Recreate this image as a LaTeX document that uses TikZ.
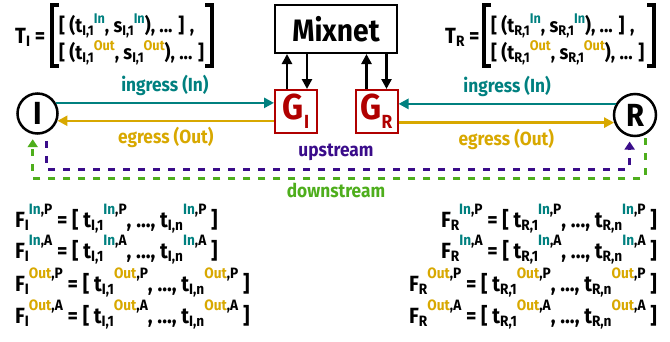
\documentclass[tikz,border=0pt]{standalone}
\usepackage{fontspec}
\setmainfont{Fira Sans}[FakeStretch=0.91]
\usepackage{xcolor}
\usetikzlibrary{positioning,arrows.meta,calc}
\definecolor{InTeal}{HTML}{00807F}
\definecolor{OutGold}{HTML}{D8A800}
\definecolor{UpPurple}{HTML}{3A0C8A}
\definecolor{DownGreen}{HTML}{4EAE1C}
\definecolor{GateRed}{HTML}{B00000}
\newcommand\lo[1]{\raisebox{-3pt}{\fontsize{15}{15}\selectfont #1}}
\newcommand\hi[1]{\raisebox{13pt}{\fontsize{15}{15}\selectfont #1}}
\newcommand\losm[1]{\raisebox{-3pt}{\fontsize{14}{14}\selectfont #1}}
\newcommand\hilow[1]{\raisebox{9pt}{\fontsize{14}{14}\selectfont #1}}
\newcommand\InTag{\textcolor{InTeal}{In}}
\newcommand\OutTag{\textcolor{OutGold}{Out}}
\newcommand\gsub[1]{\raisebox{-9pt}{\fontsize{19}{19}\selectfont #1}}
\begin{document}
\begin{tikzpicture}[x=1pt,y=-1pt,
    every node/.style={font=\bfseries\fontsize{22}{22}\selectfont, inner sep=0pt},
    ar/.style={-{Triangle[length=10pt,width=10pt]},line width=2.5pt},
    gate/.style={draw=GateRed,line width=2pt,minimum width=42pt,minimum height=43pt,
                 text=GateRed,font=\bfseries\fontsize{36}{36}\selectfont},
    party/.style={draw,circle,line width=2.5pt,minimum size=40pt,
                  font=\bfseries\fontsize{32}{32}\selectfont},
    flow/.style={line width=3pt,dash pattern=on 7pt off 8pt,
                 -{Triangle[length=8pt,width=10pt]}},
    lbl/.style={font=\bfseries\fontsize{19}{19}\selectfont},
    trow/.style={anchor=base west,font=\bfseries\fontsize{20}{20}\selectfont},
    brk/.style={line width=3.5pt}]
  \useasboundingbox (0,0) rectangle (670,341);
  % parties, gateways and the mixnet
  \node[party] (i) at (37.5,113.5) {I};
  \node[party, minimum size=42pt] (r) at (635,115) {R};
  \node[gate] (gi) at (296,111.5) {G\gsub{I}};
  \node[gate] (gr) at (376.5,111.5) {G\gsub{R}};
  \node[draw, line width=2pt, minimum width=122pt, minimum height=48pt,
        font=\bfseries\fontsize{31}{31}\selectfont] (mix) at (336,29) {Mixnet};
  \draw[ar] ([xshift=-9pt]gi.north) -- ([xshift=-9pt]gi.north |- mix.south);
  \draw[ar] ([xshift=11pt]gi.north |- mix.south) -- ([xshift=11pt]gi.north);
  \draw[ar] ([xshift=-10pt]gr.north) -- ([xshift=-10pt]gr.north |- mix.south);
  \draw[ar] ([xshift=10pt]gr.north |- mix.south) -- ([xshift=10pt]gr.north);
  % ingress / egress
  \draw[ar, InTeal] (i.30) -- (i.30 -| gi.west)
    node[lbl, midway, above=6pt] {ingress (In)};
  \draw[ar, OutGold] (gi.west |- i.-20) -- (i.-20)
    node[lbl, midway, below=5pt] {egress (Out)};
  \draw[ar, InTeal] (r.150) -- (r.150 -| gr.east)
    node[lbl, midway, above=6pt] {ingress (In)};
  \draw[ar, OutGold] (gr.east |- r.200) -- (r.200)
    node[lbl, midway, below=5pt] {egress (Out)};
  % upstream / downstream
  \coordinate (upy) at (0,169);
  \coordinate (downy) at (0,178);
  \draw[flow, UpPurple, shorten <=8pt, shorten >=5pt]
    (i.-65) -- (i.-65 |- upy) -| (r.-104);
  \draw[flow, DownGreen, shorten <=4pt, shorten >=5pt]
    (r.-61) -- (r.-61 |- downy) -| (i.-103);
  \node[lbl, text=UpPurple] (uplbl) at (336,152) {upstream};
  \node[lbl, text=DownGreen] (downlbl) at (336,190) {downstream};
  % trace matrices
  \node[anchor=base west] (ti) at (15,43) {T\lo{I} =};
  \node[trow] (ti1) at (59,32)
    {[ (t\losm{I,1}\hilow{\InTag}, s\losm{I,1}\hilow{\InTag}), ... ] ,};
  \node[trow] (ti2) at (59,59)
    {[ (t\losm{I,1}\hilow{\OutTag}, s\losm{I,1}\hilow{\OutTag}), ... ]};
  \draw[brk] (59,5) -- (52,5) -- (52,66) -- (59,66);
  \draw[brk] (205,5) -- (212,5) -- (212,66) -- (205,66);
  \node[anchor=base west] (tr) at (445,43) {T\lo{R} =};
  \node[trow] (tr1) at (491,32)
    {[ (t\losm{R,1}\hilow{\InTag}, s\losm{R,1}\hilow{\InTag}), ... ] ,};
  \node[trow] (tr2) at (491,59)
    {[ (t\losm{R,1}\hilow{\OutTag}, s\losm{R,1}\hilow{\OutTag}), ... ]};
  \draw[brk] (491,5) -- (484,5) -- (484,66) -- (491,66);
  \draw[brk] (647,5) -- (654,5) -- (654,66) -- (647,66);
  % flow vectors
  \node[anchor=base west] (fi1) at (15,227)
    {F\lo{I}\hi{\InTag,P} = [ t\lo{I,1}\hi{\InTag,P}, ..., t\lo{I,n}\hi{\InTag,P} ]};
  \node[anchor=base west] (fi2) at (15,258)
    {F\lo{I}\hi{\InTag,A} = [ t\lo{I,1}\hi{\InTag,A}, ..., t\lo{I,n}\hi{\InTag,A} ]};
  \node[anchor=base west] (fi3) at (15,291)
    {F\lo{I}\hi{\OutTag,P} = [ t\lo{I,1}\hi{\OutTag,P}, ..., t\lo{I,n}\hi{\OutTag,P} ]};
  \node[anchor=base west] (fi4) at (15,323)
    {F\lo{I}\hi{\OutTag,A} = [ t\lo{I,1}\hi{\OutTag,A}, ..., t\lo{I,n}\hi{\OutTag,A} ]};
  \node[anchor=base east] (fr1) at (657,227)
    {F\lo{R}\hi{\InTag,P} = [ t\lo{R,1}\hi{\InTag,P}, ..., t\lo{R,n}\hi{\InTag,P} ]};
  \node[anchor=base east] (fr2) at (657,258)
    {F\lo{R}\hi{\InTag,A} = [ t\lo{R,1}\hi{\InTag,A}, ..., t\lo{R,n}\hi{\InTag,A} ]};
  \node[anchor=base east] (fr3) at (657,291)
    {F\lo{R}\hi{\OutTag,P} = [ t\lo{R,1}\hi{\OutTag,P}, ..., t\lo{R,n}\hi{\OutTag,P} ]};
  \node[anchor=base east] (fr4) at (657,323)
    {F\lo{R}\hi{\OutTag,A} = [ t\lo{R,1}\hi{\OutTag,A}, ..., t\lo{R,n}\hi{\OutTag,A} ]};
\end{tikzpicture}
\end{document}
